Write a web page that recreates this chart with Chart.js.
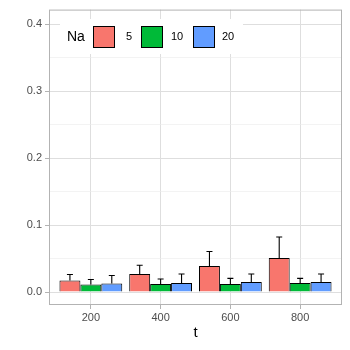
<!DOCTYPE html>
<html>
<head>
<meta charset="utf-8">
<script src="https://cdn.jsdelivr.net/npm/chart.js@4"></script>
<style>
  html, body { margin: 0; padding: 0; background: #fff; }
  #wrap { width: 350px; height: 350px; }
</style>
</head>
<body>
<div id="wrap"><canvas id="chart" width="350" height="350"></canvas></div>
<script>
// data
const tLabels = ['200', '400', '600', '800'];
const naLevels = ['5', '10', '20'];
const naColors = ['#F8766D', '#00BA38', '#619CFF'];
const means5 = [0.0173, 0.0270, 0.0388, 0.0507];
const means10 = [0.0114, 0.0121, 0.0121, 0.0136];
const means20 = [0.0129, 0.0136, 0.0151, 0.0151];
const upper5 = [0.0262, 0.0400, 0.0605, 0.0822];
const upper10 = [0.0188, 0.0196, 0.0205, 0.0205];
const upper20 = [0.0247, 0.0270, 0.0270, 0.0270];
const yTicks = [0, 0.1, 0.2, 0.3, 0.4];

const allMeans = [means5, means10, means20];
const allUpper = [upper5, upper10, upper20];

const datasets = naLevels.map((lvl, k) => ({
  label: lvl,
  data: allMeans[k].map((v, i) => ({ x: i, y: v })),
  upper: allUpper[k],
  backgroundColor: naColors[k],
  borderColor: '#000',
  borderWidth: 1,
  borderSkipped: 'bottom',
  categoryPercentage: 0.9,
  barPercentage: 1.0
}));

const panelPlugin = {
  id: 'panel',
  afterDatasetsDraw(chart) {
    const ctx = chart.ctx;
    const ys = chart.scales.y;
    // error bars (upper only)
    chart.data.datasets.forEach((ds, k) => {
      const meta = chart.getDatasetMeta(k);
      meta.data.forEach((bar, i) => {
        const yTop = ys.getPixelForValue(ds.upper[i]);
        ctx.save();
        ctx.strokeStyle = '#000';
        ctx.lineWidth = 1.1;
        ctx.beginPath();
        ctx.moveTo(bar.x, bar.y);
        ctx.lineTo(bar.x, yTop);
        ctx.moveTo(bar.x - 3, yTop);
        ctx.lineTo(bar.x + 3, yTop);
        ctx.stroke();
        ctx.restore();
      });
    });
    // panel border
    const a = chart.chartArea;
    ctx.save();
    ctx.strokeStyle = '#B3B3B3';
    ctx.lineWidth = 1;
    ctx.strokeRect(a.left + 0.5, a.top + 0.5, a.right - a.left - 1, a.bottom - a.top - 1);

    // legend inside panel
    ctx.fillStyle = '#fff';
    ctx.fillRect(60, 19, 183, 35);
    ctx.fillStyle = '#000';
    ctx.textBaseline = 'middle';
    ctx.font = '14px "Liberation Sans", Arial, sans-serif';
    ctx.fillText('Na', 67, 37);
    const keyX = [93, 141, 193];
    const labX = [126, 171, 222];
    ctx.font = '11px "Liberation Sans", Arial, sans-serif';
    naLevels.forEach((lvl, k) => {
      ctx.fillStyle = naColors[k];
      ctx.fillRect(keyX[k], 26, 21, 21);
      ctx.strokeStyle = '#000';
      ctx.strokeRect(keyX[k] + 0.5, 26.5, 21, 21);
      ctx.fillStyle = '#000';
      ctx.fillText(lvl, labX[k], 37);
    });
    ctx.restore();
  }
};

const tickFont = { family: '"Liberation Sans", Arial, sans-serif', size: 11 };
const isMajor = (c) => c.tick && Math.round(c.tick.value * 100) % 10 === 0;

new Chart(document.getElementById('chart'), {
  type: 'bar',
  data: { datasets },
  options: {
    responsive: false,
    animation: false,
    layout: { padding: { top: 7, right: 8, left: 0, bottom: 0 } },
    plugins: { legend: { display: false }, tooltip: { enabled: false } },
    scales: {
      x: {
        type: 'linear',
        min: -0.6,
        max: 3.6,
        offset: false,
        afterBuildTicks(s) { s.ticks = tLabels.map((_, i) => ({ value: i })); },
        afterFit(s) { s.height = 45; },
        ticks: {
          color: '#4D4D4D',
          font: tickFont,
          padding: 2,
          maxRotation: 0,
          callback: (v) => tLabels[v]
        },
        grid: { offset: false, color: '#DEDEDE', lineWidth: 1, tickLength: 4, tickColor: '#B3B3B3' },
        border: { display: false },
        title: {
          display: true,
          text: 't',
          color: '#000',
          font: { family: '"Liberation Sans", Arial, sans-serif', size: 15 },
          padding: { top: 0, bottom: 8 }
        }
      },
      y: {
        type: 'linear',
        min: -0.0193,
        max: 0.4215,
        afterBuildTicks(s) {
          const t = [];
          for (let i = 0; i <= 8; i++) t.push({ value: i * 0.05 });
          s.ticks = t;
        },
        afterFit(s) { s.width = 49; },
        ticks: {
          color: '#4D4D4D',
          font: tickFont,
          padding: 3,
          callback: (v) => {
            const m = yTicks.find(y => Math.abs(y - v) < 1e-6);
            return m === undefined ? '' : m.toFixed(1);
          }
        },
        grid: {
          color: (c) => isMajor(c) ? '#DEDEDE' : '#EBEBEB',
          lineWidth: (c) => isMajor(c) ? 1 : 0.6,
          tickLength: 4,
          tickColor: (c) => isMajor(c) ? '#B3B3B3' : 'rgba(0,0,0,0)'
        },
        border: { display: false }
      }
    }
  },
  plugins: [panelPlugin]
});
</script>
</body>
</html>
